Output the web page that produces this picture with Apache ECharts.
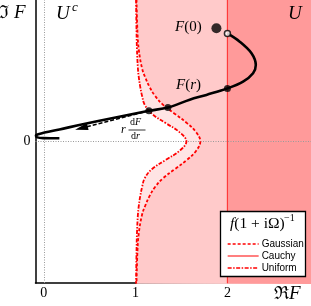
<!DOCTYPE html>
<html><head><meta charset="utf-8">
<script src="https://cdn.jsdelivr.net/npm/echarts@6/dist/echarts.min.js"></script>
<style>html,body{margin:0;padding:0;background:#fff}#c{width:311px;height:306px}</style>
</head><body><div id="c"></div>
<script>
// ---- data ----
const xTickLabels = [0, 1, 2];
const yTickLabels = [0];
// Gaussian boundary f(1+iΩ)^-1 (top to bottom)
const gaussX = [1.01, 1.02, 1.035, 1.07, 1.105, 1.15, 1.21, 1.30, 1.43, 1.56, 1.66, 1.705, 1.66, 1.56, 1.43, 1.30, 1.21, 1.15, 1.105, 1.07, 1.035, 1.02, 1.01];
const gaussY = [1.55, 1.2, 1.0, 0.8, 0.7, 0.6, 0.5, 0.4, 0.3, 0.2, 0.1, 0, -0.1, -0.2, -0.3, -0.4, -0.5, -0.6, -0.7, -0.8, -1.0, -1.2, -1.55];
// Uniform boundary
const unifX = [1.005, 1.01, 1.015, 1.025, 1.035, 1.05, 1.07, 1.10, 1.18, 1.33, 1.48, 1.553, 1.48, 1.33, 1.18, 1.10, 1.07, 1.05, 1.035, 1.025, 1.015, 1.01, 1.005];
const unifY = [1.55, 1.2, 1.0, 0.8, 0.7, 0.6, 0.5, 0.4, 0.3, 0.2, 0.1, 0, -0.1, -0.2, -0.3, -0.4, -0.5, -0.6, -0.7, -0.8, -1.0, -1.2, -1.55];
// Cauchy boundary (vertical line, top to bottom)
const cauchyX = [2, 2];
const cauchyY = [1.55, -1.55];
// trajectory F(r)
const curveX = [2.0, 2.134, 2.262, 2.309, 2.279, 2.17, 2.0, 1.771, 1.589, 1.352, 1.145, 0.607, 0.171, -0.06, -0.085, -0.07, 0.0, 0.17];
const curveY = [1.18, 1.09, 0.964, 0.836, 0.746, 0.654, 0.58, 0.509, 0.456, 0.371, 0.335, 0.227, 0.132, 0.08, 0.064, 0.045, 0.037, 0.035];
// marked points
const f0Point = [1.88, 1.237];
const startPoint = [2.0, 1.18];
const dotX = [2.0, 1.352, 1.145];
const dotY = [0.58, 0.371, 0.335];
// tangent arrow r dF/dr
const arrowFrom = [1.145, 0.335];
const arrowTo = [0.41, 0.146];

const XMIN = -0.09, XMAX = 2.91, YMIN = -1.545, YMAX = 1.545;
const zip = (a, b) => a.map((v, i) => [v, b[i]]);
const SERIF = "'Liberation Serif','DejaVu Serif',serif";

function regionSeries(name, xs, ys, color, z) {
  return {
    type: 'custom', name: name, z: z, silent: true,
    data: [[xs[0], ys[0]]],
    renderItem: function (params, api) {
      const pts = zip(xs, ys).map(p => api.coord(p));
      pts.push(api.coord([XMAX + 0.01, YMIN - 0.01]));
      pts.push(api.coord([XMAX + 0.01, YMAX + 0.01]));
      return { type: 'polygon', shape: { points: pts }, style: { fill: color, stroke: null } };
    }
  };
}

const chart = echarts.init(document.getElementById('c'), null, { renderer: 'canvas' });
const option = {
  animation: false,
  grid: { left: 35.5, right: 0, top: 0, bottom: 23 },
  xAxis: {
    type: 'value', min: XMIN, max: XMAX, splitNumber: 3,
    axisLine: { onZero: false, lineStyle: { color: '#000', width: 1.5 } },
    axisTick: { show: false }, splitLine: { show: false },
    axisLabel: {
      margin: 3, color: '#000', fontSize: 14, fontFamily: SERIF,
      showMinLabel: false, showMaxLabel: false,
      formatter: v => xTickLabels.some(t => Math.abs(t - v) < 1e-6) ? String(Math.round(v)) : ''
    }
  },
  yAxis: {
    type: 'value', min: YMIN, max: YMAX,
    axisLine: { onZero: false, lineStyle: { color: '#000', width: 1.5 } },
    axisTick: { show: false }, splitLine: { show: false },
    axisLabel: {
      margin: 5, color: '#000', fontSize: 14, fontFamily: SERIF,
      showMinLabel: false, showMaxLabel: false,
      formatter: v => yTickLabels.some(t => Math.abs(t - v) < 1e-6) ? String(Math.round(v)) : ''
    }
  },
  legend: {
    data: ['Gaussian', 'Cauchy', 'Uniform'],
    orient: 'vertical', left: 227, top: 238, padding: 0,
    itemWidth: 31, itemHeight: 12, itemGap: 0,
    itemStyle: { color: 'rgba(0,0,0,0)', borderWidth: 0, opacity: 0 },
    lineStyle: { width: 1.3 },
    textStyle: { fontSize: 10, fontFamily: "'Liberation Sans',Arial,sans-serif", color: '#000', lineHeight: 12, padding: [0, 0, 0, -2] },
    selectedMode: false, z: 20
  },
  series: [
    regionSeries('uR', unifX, unifY, '#ffe4e4', 1),
    regionSeries('gR', gaussX, gaussY, '#ffcaca', 2),
    regionSeries('cR', cauchyX, cauchyY, '#ff9a9a', 3),
    {
      type: 'line', name: 'grid', data: [], z: 4, silent: true,
      markLine: {
        silent: true, symbol: 'none', label: { show: false },
        lineStyle: { color: '#9a9a9a', type: [1, 1.5], width: 1 },
        data: [{ xAxis: 0 }, { yAxis: 0 }]
      }
    },
    {
      type: 'line', name: 'Cauchy', data: zip(cauchyX, cauchyY), z: 5,
      symbol: 'none', lineStyle: { color: '#ff3a3a', width: 1.2 }, itemStyle: { color: '#ff3a3a' }
    },
    {
      type: 'line', name: 'Gaussian', data: zip(gaussX, gaussY), z: 5, smooth: 0.4,
      symbol: 'none', lineStyle: { color: '#ff0000', width: 1.8, type: [3, 2] }, itemStyle: { color: '#ff0000' }
    },
    {
      type: 'line', name: 'Uniform', data: zip(unifX, unifY), z: 5, smooth: 0.4,
      symbol: 'none', lineStyle: { color: '#ff0000', width: 1.8, type: [4, 1.5, 1.5, 1.5] }, itemStyle: { color: '#ff0000' }
    },
    {
      type: 'line', name: 'traj', data: zip(curveX, curveY), z: 6, smooth: 0.35,
      symbol: 'none', clip: true, lineStyle: { color: '#000', width: 2.6 },
      markLine: {
        silent: true, symbol: ['none', 'triangle'], symbolSize: [7, 13], label: { show: false },
        lineStyle: { color: '#000', type: [4, 2], width: 1.6 },
        data: [[{ coord: arrowFrom }, { coord: arrowTo }]]
      }
    },
    {
      type: 'scatter', name: 'dots', z: 7, symbolSize: 7,
      itemStyle: { color: '#000' }, data: zip(dotX, dotY)
    },
    {
      type: 'scatter', name: 'f0', z: 7, symbolSize: 10,
      itemStyle: { color: '#000' }, data: [f0Point]
    },
    {
      type: 'scatter', name: 'start', z: 8, symbolSize: 6,
      itemStyle: { color: '#fff', borderColor: '#000', borderWidth: 1.5 }, data: [startPoint]
    }
  ],
  graphic: [
    { type: 'text', z: 30, left: -1, top: 4, style: { text: 'ℑ', font: '18px ' + SERIF, fill: '#000' } },
    { type: 'text', z: 30, left: 14, top: 3, style: { text: 'F', font: 'italic 19px ' + SERIF, fill: '#000' } },
    { type: 'text', z: 30, left: 56, top: 4, style: { text: 'U', font: 'italic 19px ' + SERIF, fill: '#000' } },
    { type: 'text', z: 30, left: 72, top: 1, style: { text: 'c', font: 'italic 13px ' + SERIF, fill: '#000' } },
    { type: 'text', z: 30, left: 288, top: 4, style: { text: 'U', font: 'italic 19px ' + SERIF, fill: '#000' } },
    { type: 'text', z: 30, left: 274, top: 285, style: { text: 'ℜ', font: '18px ' + SERIF, fill: '#000' } },
    { type: 'text', z: 30, left: 289, top: 284, style: { text: 'F', font: 'italic 19px ' + SERIF, fill: '#000' } },
    { type: 'text', z: 30, left: 175, top: 20, style: {
      text: '{i|F}{n|(0)}', rich: { i: { font: 'italic 15px ' + SERIF, fill: '#000' }, n: { font: '15px ' + SERIF, fill: '#000' } } } },
    { type: 'text', z: 30, left: 176, top: 78, style: {
      text: '{i|F}{n|(}{i|r}{n|)}', rich: { i: { font: 'italic 15px ' + SERIF, fill: '#000' }, n: { font: '15px ' + SERIF, fill: '#000' } } } },
    { type: 'text', z: 30, left: 121, top: 124, style: { text: 'r', font: 'italic 12px ' + SERIF, fill: '#000' } },
    { type: 'text', z: 30, left: 130, top: 117, style: {
      text: '{n|d}{i|F}', rich: { i: { font: 'italic 10px ' + SERIF, fill: '#000' }, n: { font: '10px ' + SERIF, fill: '#000' } } } },
    { type: 'line', z: 30, shape: { x1: 128.5, y1: 130, x2: 145.5, y2: 130 }, style: { stroke: '#000', lineWidth: 0.8 } },
    { type: 'text', z: 30, left: 131, top: 131, style: {
      text: '{n|d}{i|r}', rich: { i: { font: 'italic 10px ' + SERIF, fill: '#000' }, n: { font: '10px ' + SERIF, fill: '#000' } } } },
    { type: 'rect', z: 15, shape: { x: 220.5, y: 211.5, width: 85, height: 65 }, style: { fill: '#fff', stroke: '#000', lineWidth: 1.3 } },
    { type: 'text', z: 30, left: 230, top: 216, style: {
      text: '{i|f}{n|(1 + iΩ)}', rich: { i: { font: 'italic 15.5px ' + SERIF, fill: '#000' }, n: { font: '15.5px ' + SERIF, fill: '#000' } } } },
    { type: 'text', z: 30, left: 284, top: 213, style: { text: '−1', font: '10px ' + SERIF, fill: '#000' } }
  ]
};
chart.setOption(option);
</script></body></html>
